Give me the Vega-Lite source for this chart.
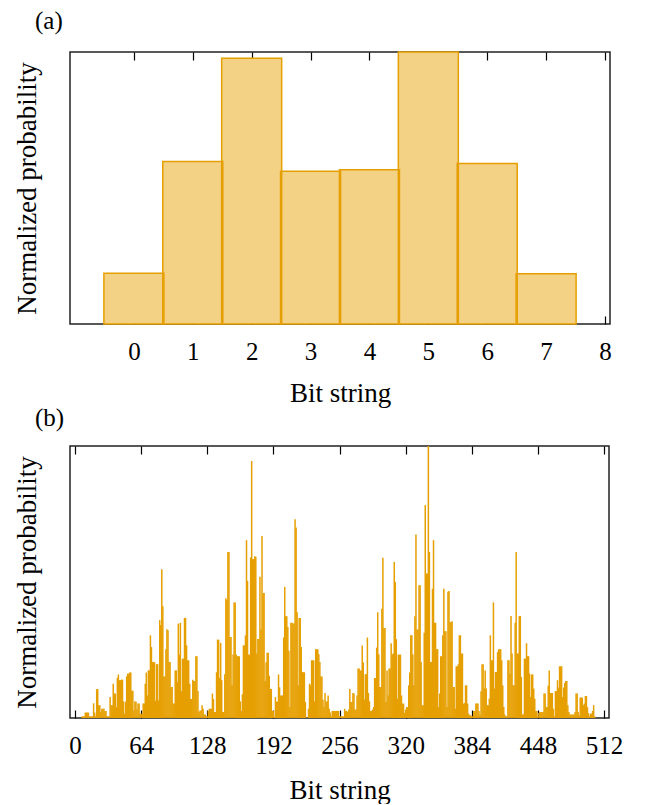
{
"$schema": "https://vega.github.io/schema/vega-lite/v6.json",
"padding": {"left": 12, "top": 8, "right": 20, "bottom": 0},
"spacing": -2,
"config": {
  "font": "Liberation Serif",
  "view": {"stroke": "#222222", "strokeWidth": 1.5},
  "axis": {"labelFont": "Liberation Serif", "titleFont": "Liberation Serif", "labelFontSize": 25, "titleFontSize": 27, "titleFontWeight": "normal", "labelColor": "#000000", "titleColor": "#000000", "tickColor": "#000000", "tickWidth": 1.2, "grid": false, "domain": false, "labelOverlap": false, "labelFlush": false},
  "title": {"font": "Liberation Serif", "fontSize": 25, "fontWeight": "normal", "color": "#000000"}
},
"datasets": {
  "a": [
    {"k": 0, "p": 0.187}, {"k": 1, "p": 0.597}, {"k": 2, "p": 0.977}, {"k": 3, "p": 0.562},
    {"k": 4, "p": 0.567}, {"k": 5, "p": 1.0}, {"k": 6, "p": 0.59}, {"k": 7, "p": 0.185}
  ],
  "b": [
{"i":0,"p":0},{"i":1,"p":0},{"i":2,"p":0},{"i":3,"p":0},{"i":4,"p":0},{"i":5,"p":0},{"i":6,"p":0},{"i":7,"p":6},{"i":8,"p":6},{"i":9,"p":6},
{"i":10,"p":20},{"i":11,"p":20},{"i":12,"p":20},{"i":13,"p":20},{"i":14,"p":6},{"i":15,"p":6},{"i":16,"p":6},{"i":17,"p":6},{"i":18,"p":54},{"i":19,"p":20},
{"i":20,"p":6},{"i":21,"p":106},{"i":22,"p":106},{"i":23,"p":47},{"i":24,"p":47},{"i":25,"p":22},{"i":26,"p":34},{"i":27,"p":34},{"i":28,"p":34},{"i":29,"p":26},
{"i":30,"p":26},{"i":31,"p":6},{"i":32,"p":6},{"i":33,"p":6},{"i":34,"p":77},{"i":35,"p":47},{"i":36,"p":47},{"i":37,"p":126},{"i":38,"p":90},{"i":39,"p":90},
{"i":40,"p":40},{"i":41,"p":148},{"i":42,"p":160},{"i":43,"p":139},{"i":44,"p":139},{"i":45,"p":141},{"i":46,"p":141},{"i":47,"p":61},{"i":48,"p":16},{"i":49,"p":60},
{"i":50,"p":153},{"i":51,"p":163},{"i":52,"p":163},{"i":53,"p":167},{"i":54,"p":167},{"i":55,"p":100},{"i":56,"p":100},{"i":57,"p":28},{"i":58,"p":61},{"i":59,"p":61},
{"i":60,"p":31},{"i":61,"p":53},{"i":62,"p":53},{"i":63,"p":16},{"i":64,"p":16},{"i":65,"p":16},{"i":66,"p":53},{"i":67,"p":53},{"i":68,"p":126},{"i":69,"p":167},
{"i":70,"p":83},{"i":71,"p":175},{"i":72,"p":175},{"i":73,"p":304},{"i":74,"p":261},{"i":75,"p":206},{"i":76,"p":206},{"i":77,"p":205},{"i":78,"p":63},{"i":79,"p":198},
{"i":80,"p":198},{"i":81,"p":65},{"i":82,"p":360},{"i":83,"p":342},{"i":84,"p":547},{"i":85,"p":411},{"i":86,"p":153},{"i":87,"p":153},{"i":88,"p":253},{"i":89,"p":326},
{"i":90,"p":323},{"i":91,"p":206},{"i":92,"p":206},{"i":93,"p":113},{"i":94,"p":114},{"i":95,"p":53},{"i":96,"p":53},{"i":97,"p":175},{"i":98,"p":175},{"i":99,"p":133},
{"i":100,"p":347},{"i":101,"p":233},{"i":102,"p":350},{"i":103,"p":99},{"i":104,"p":218},{"i":105,"p":218},{"i":106,"p":368},{"i":107,"p":368},{"i":108,"p":267},{"i":109,"p":212},
{"i":110,"p":212},{"i":111,"p":126},{"i":112,"p":70},{"i":113,"p":70},{"i":114,"p":141},{"i":115,"p":136},{"i":116,"p":136},{"i":117,"p":227},{"i":118,"p":227},{"i":119,"p":99},
{"i":120,"p":22},{"i":121,"p":28},{"i":122,"p":28},{"i":123,"p":47},{"i":124,"p":34},{"i":125,"p":13},{"i":126,"p":13},{"i":127,"p":6},{"i":128,"p":6},{"i":129,"p":26},
{"i":130,"p":34},{"i":131,"p":34},{"i":132,"p":34},{"i":133,"p":90},{"i":134,"p":70},{"i":135,"p":22},{"i":136,"p":22},{"i":137,"p":168},{"i":138,"p":288},{"i":139,"p":288},
{"i":140,"p":147},{"i":141,"p":276},{"i":142,"p":139},{"i":143,"p":22},{"i":144,"p":22},{"i":145,"p":161},{"i":146,"p":440},{"i":147,"p":433},{"i":148,"p":610},{"i":149,"p":610},
{"i":150,"p":298},{"i":151,"p":298},{"i":152,"p":120},{"i":153,"p":233},{"i":154,"p":425},{"i":155,"p":425},{"i":156,"p":233},{"i":157,"p":227},{"i":158,"p":227},{"i":159,"p":227},
{"i":160,"p":61},{"i":161,"p":26},{"i":162,"p":87},{"i":163,"p":267},{"i":164,"p":267},{"i":165,"p":304},{"i":166,"p":654},{"i":167,"p":504},{"i":168,"p":233},{"i":169,"p":233},
{"i":170,"p":590},{"i":171,"p":945},{"i":172,"p":584},{"i":173,"p":584},{"i":174,"p":595},{"i":175,"p":593},{"i":176,"p":237},{"i":177,"p":290},{"i":178,"p":290},{"i":179,"p":519},
{"i":180,"p":325},{"i":181,"p":669},{"i":182,"p":460},{"i":183,"p":460},{"i":184,"p":136},{"i":185,"p":205},{"i":186,"p":240},{"i":187,"p":240},{"i":188,"p":155},{"i":189,"p":107},
{"i":190,"p":107},{"i":191,"p":26},{"i":192,"p":26},{"i":193,"p":4},{"i":194,"p":77},{"i":195,"p":60},{"i":196,"p":60},{"i":197,"p":160},{"i":198,"p":113},{"i":199,"p":82},
{"i":200,"p":83},{"i":201,"p":83},{"i":202,"p":296},{"i":203,"p":482},{"i":204,"p":374},{"i":205,"p":374},{"i":206,"p":335},{"i":207,"p":247},{"i":208,"p":40},{"i":209,"p":350},
{"i":210,"p":350},{"i":211,"p":347},{"i":212,"p":347},{"i":213,"p":731},{"i":214,"p":700},{"i":215,"p":389},{"i":216,"p":120},{"i":217,"p":368},{"i":218,"p":368},{"i":219,"p":261},
{"i":220,"p":169},{"i":221,"p":168},{"i":222,"p":168},{"i":223,"p":59},{"i":224,"p":1},{"i":225,"p":1},{"i":226,"p":34},{"i":227,"p":126},{"i":228,"p":120},{"i":229,"p":212},
{"i":230,"p":212},{"i":231,"p":212},{"i":232,"p":61},{"i":233,"p":253},{"i":234,"p":253},{"i":235,"p":253},{"i":236,"p":234},{"i":237,"p":206},{"i":238,"p":153},{"i":239,"p":153},
{"i":240,"p":67},{"i":241,"p":40},{"i":242,"p":92},{"i":243,"p":61},{"i":244,"p":61},{"i":245,"p":83},{"i":246,"p":34},{"i":247,"p":20},{"i":248,"p":6},{"i":249,"p":26},
{"i":250,"p":26},{"i":251,"p":26},{"i":252,"p":26},{"i":253,"p":26},{"i":254,"p":26},{"i":255,"p":26},{"i":256,"p":6},{"i":257,"p":6},{"i":258,"p":6},{"i":259,"p":6},
{"i":260,"p":6},{"i":261,"p":34},{"i":262,"p":26},{"i":263,"p":26},{"i":264,"p":22},{"i":265,"p":31},{"i":266,"p":107},{"i":267,"p":59},{"i":268,"p":59},{"i":269,"p":92},
{"i":270,"p":90},{"i":271,"p":31},{"i":272,"p":31},{"i":273,"p":83},{"i":274,"p":182},{"i":275,"p":182},{"i":276,"p":175},{"i":277,"p":175},{"i":278,"p":267},{"i":279,"p":204},
{"i":280,"p":69},{"i":281,"p":161},{"i":282,"p":161},{"i":283,"p":296},{"i":284,"p":92},{"i":285,"p":61},{"i":286,"p":26},{"i":287,"p":26},{"i":288,"p":31},{"i":289,"p":40},
{"i":290,"p":147},{"i":291,"p":147},{"i":292,"p":259},{"i":293,"p":389},{"i":294,"p":234},{"i":295,"p":114},{"i":296,"p":114},{"i":297,"p":402},{"i":298,"p":589},{"i":299,"p":331},
{"i":300,"p":331},{"i":301,"p":59},{"i":302,"p":175},{"i":303,"p":83},{"i":304,"p":182},{"i":305,"p":182},{"i":306,"p":275},{"i":307,"p":233},{"i":308,"p":237},{"i":309,"p":574},
{"i":310,"p":500},{"i":311,"p":290},{"i":312,"p":71},{"i":313,"p":233},{"i":314,"p":233},{"i":315,"p":233},{"i":316,"p":83},{"i":317,"p":53},{"i":318,"p":53},{"i":319,"p":18},
{"i":320,"p":31},{"i":321,"p":40},{"i":322,"p":40},{"i":323,"p":120},{"i":324,"p":167},{"i":325,"p":304},{"i":326,"p":304},{"i":327,"p":233},{"i":328,"p":120},{"i":329,"p":374},
{"i":330,"p":675},{"i":331,"p":325},{"i":332,"p":325},{"i":333,"p":488},{"i":334,"p":488},{"i":335,"p":206},{"i":336,"p":47},{"i":337,"p":47},{"i":338,"p":313},{"i":339,"p":783},
{"i":340,"p":531},{"i":341,"p":531},{"i":342,"p":1000},{"i":343,"p":610},{"i":344,"p":206},{"i":345,"p":206},{"i":346,"p":475},{"i":347,"p":654},{"i":348,"p":350},{"i":349,"p":350},
{"i":350,"p":253},{"i":351,"p":253},{"i":352,"p":40},{"i":353,"p":90},{"i":354,"p":227},{"i":355,"p":227},{"i":356,"p":304},{"i":357,"p":475},{"i":358,"p":319},{"i":359,"p":319},
{"i":360,"p":40},{"i":361,"p":464},{"i":362,"p":467},{"i":363,"p":353},{"i":364,"p":353},{"i":365,"p":356},{"i":366,"p":114},{"i":367,"p":114},{"i":368,"p":34},{"i":369,"p":190},
{"i":370,"p":190},{"i":371,"p":198},{"i":372,"p":304},{"i":373,"p":304},{"i":374,"p":237},{"i":375,"p":237},{"i":376,"p":53},{"i":377,"p":55},{"i":378,"p":120},{"i":379,"p":120},
{"i":380,"p":53},{"i":381,"p":16},{"i":382,"p":10},{"i":383,"p":10},{"i":384,"p":6},{"i":385,"p":6},{"i":386,"p":26},{"i":387,"p":26},{"i":388,"p":53},{"i":389,"p":53},
{"i":390,"p":53},{"i":391,"p":26},{"i":392,"p":12},{"i":393,"p":98},{"i":394,"p":198},{"i":395,"p":198},{"i":396,"p":108},{"i":397,"p":175},{"i":398,"p":108},{"i":399,"p":47},
{"i":400,"p":47},{"i":401,"p":71},{"i":402,"p":304},{"i":403,"p":212},{"i":404,"p":212},{"i":405,"p":425},{"i":406,"p":108},{"i":407,"p":169},{"i":408,"p":169},{"i":409,"p":242},
{"i":410,"p":252},{"i":411,"p":253},{"i":412,"p":253},{"i":413,"p":212},{"i":414,"p":120},{"i":415,"p":40},{"i":416,"p":13},{"i":417,"p":6},{"i":418,"p":6},{"i":419,"p":212},
{"i":420,"p":212},{"i":421,"p":163},{"i":422,"p":375},{"i":423,"p":237},{"i":424,"p":120},{"i":425,"p":120},{"i":426,"p":350},{"i":427,"p":610},{"i":428,"p":237},{"i":429,"p":237},
{"i":430,"p":375},{"i":431,"p":375},{"i":432,"p":151},{"i":433,"p":13},{"i":434,"p":13},{"i":435,"p":218},{"i":436,"p":218},{"i":437,"p":275},{"i":438,"p":227},{"i":439,"p":227},
{"i":440,"p":163},{"i":441,"p":77},{"i":442,"p":160},{"i":443,"p":160},{"i":444,"p":108},{"i":445,"p":71},{"i":446,"p":26},{"i":447,"p":26},{"i":448,"p":6},{"i":449,"p":18},
{"i":450,"p":22},{"i":451,"p":22},{"i":452,"p":22},{"i":453,"p":22},{"i":454,"p":90},{"i":455,"p":90},{"i":456,"p":40},{"i":457,"p":40},{"i":458,"p":119},{"i":459,"p":175},
{"i":460,"p":92},{"i":461,"p":92},{"i":462,"p":92},{"i":463,"p":34},{"i":464,"p":6},{"i":465,"p":99},{"i":466,"p":99},{"i":467,"p":139},{"i":468,"p":112},{"i":469,"p":190},
{"i":470,"p":190},{"i":471,"p":190},{"i":472,"p":77},{"i":473,"p":112},{"i":474,"p":129},{"i":475,"p":136},{"i":476,"p":136},{"i":477,"p":47},{"i":478,"p":22},{"i":479,"p":13},
{"i":480,"p":13},{"i":481,"p":13},{"i":482,"p":13},{"i":483,"p":13},{"i":484,"p":22},{"i":485,"p":90},{"i":486,"p":90},{"i":487,"p":22},{"i":488,"p":10},{"i":489,"p":75},
{"i":490,"p":75},{"i":491,"p":75},{"i":492,"p":47},{"i":493,"p":53},{"i":494,"p":81},{"i":495,"p":81},{"i":496,"p":40},{"i":497,"p":18},{"i":498,"p":6},{"i":499,"p":16},
{"i":500,"p":16},{"i":501,"p":26},{"i":502,"p":47},{"i":503,"p":6},{"i":504,"p":0},{"i":505,"p":0},{"i":506,"p":0},{"i":507,"p":0},{"i":508,"p":0},{"i":509,"p":0},
{"i":510,"p":0},{"i":511,"p":0}
  ]
},
"vconcat": [
  {
    "width": 540, "height": 272,
    "title": {"text": "(a)", "anchor": "start", "frame": "bounds", "dx": 22, "offset": 17},
    "data": {"name": "a"},
    "layer": [
      {
        "mark": {"type": "bar", "orient": "vertical", "width": 60, "fill": "#F3D185", "strokeWidth": 0},
        "encoding": {
          "x": {"field": "k", "type": "quantitative", "scale": {"domain": [-1, 8], "nice": false, "zero": false},
                "axis": {"orient": "bottom", "values": [0, 1, 2, 3, 4, 5, 6, 7, 8], "tickSize": -8, "labelPadding": 23, "title": "Bit string", "titlePadding": 16}},
          "y": {"field": "p", "type": "quantitative", "scale": {"domain": [0, 1], "nice": false},
                "axis": {"labels": false, "ticks": false, "title": "Normalized probability", "titlePadding": 29}}
        }
      },
      {
        "mark": {"type": "bar", "orient": "vertical", "width": 60, "fillOpacity": 0, "stroke": "#E69F00", "strokeWidth": 1.5},
        "encoding": {
          "x": {"field": "k", "type": "quantitative",
                "axis": {"orient": "top", "values": [0, 1, 2, 3, 4, 5, 6, 7, 8], "tickSize": -8, "labels": false, "title": null}},
          "y": {"field": "p", "type": "quantitative",
                "axis": {"labels": false, "ticks": false, "title": "Normalized probability", "titlePadding": 29}}
        }
      }
    ],
    "resolve": {"axis": {"x": "independent"}}
  },
  {
    "width": 539, "height": 272,
    "title": {"text": "(b)", "anchor": "start", "frame": "bounds", "dx": 22, "offset": 14},
    "data": {"name": "b"},
    "layer": [
      {
        "mark": {"type": "bar", "orient": "vertical", "width": 1.5, "color": "#E69F00"},
        "encoding": {
          "x": {"field": "i", "type": "quantitative", "scale": {"domain": [0, 512], "nice": false, "zero": false},
                "axis": {"orient": "bottom", "values": [0, 64, 128, 192, 256, 320, 384, 448, 512], "tickSize": -8, "labelPadding": 23, "title": "Bit string", "titlePadding": 19}},
          "y": {"field": "p", "type": "quantitative", "scale": {"domain": [0, 1000], "nice": false},
                "axis": {"labels": false, "ticks": false, "title": "Normalized probability", "titlePadding": 29}}
        }
      },
      {
        "mark": {"type": "bar", "orient": "vertical", "width": 1.5, "color": "#E69F00", "opacity": 0},
        "encoding": {
          "x": {"field": "i", "type": "quantitative",
                "axis": {"orient": "top", "values": [0, 64, 128, 192, 256, 320, 384, 448, 512], "tickSize": -8, "labels": false, "title": null}},
          "y": {"field": "p", "type": "quantitative",
                "axis": {"labels": false, "ticks": false, "title": "Normalized probability", "titlePadding": 29}}
        }
      }
    ],
    "resolve": {"axis": {"x": "independent"}}
  }
]
}
